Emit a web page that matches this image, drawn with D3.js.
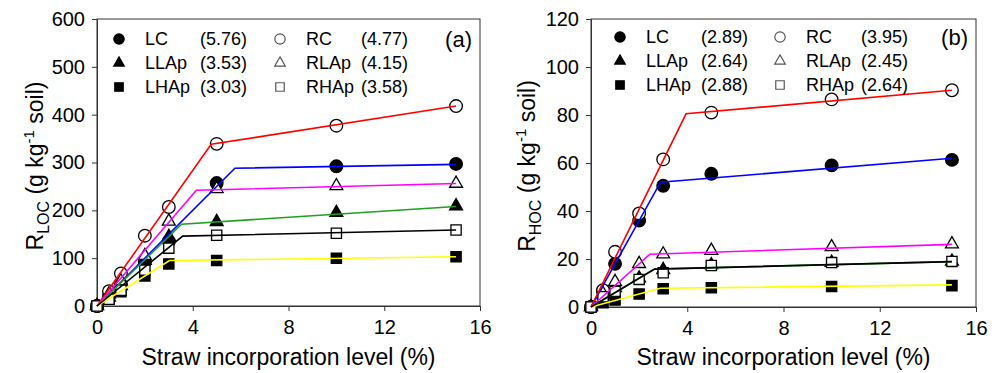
<!DOCTYPE html>
<html>
<head>
<meta charset="utf-8">
<script src="https://cdn.jsdelivr.net/npm/d3@7"></script>
<style>
  body { margin: 0; background: #fff; }
  svg { display: block; font-family: "Liberation Sans", Arial, sans-serif; }
  .tick text { font-size: 20px; fill: #000; }
  .tick line, .domain { stroke: #333; }
</style>
</head>
<body>
<div id="chart"></div>
<script>
// x values (straw incorporation level, %)
const levels = [0, 0.5, 1, 2, 3, 5, 10, 15];
const seriesNames = ['LC', 'LLAp', 'LHAp', 'RC', 'RLAp', 'RHAp'];
const seriesColors = ['#0000ff', '#1fa01f', '#ffff00', '#ff0000', '#ff00ff', '#000000'];
const seriesShapes = ['circle', 'triangle', 'square', 'circle', 'triangle', 'square'];
const seriesFilled = [true, true, true, false, false, false];

// panel (a) R_LOC
const locLC = [0, 20, 45, 92, 135, 257, 292, 297];
const locLLAp = [0, 18, 42, 95, 145, 176, 195, 209];
const locLHAp = [0, 14, 30, 63, 88, 95, 100, 103];
const locRC = [0, 31, 68, 147, 207, 339, 377, 418];
const locRLAp = [0, 25, 52, 105, 177, 245, 251, 256];
const locRHAp = [0, 14, 33, 75, 121, 148, 152, 159];
// fitted piecewise lines: breakpoint, value at breakpoint, value at 15 %
const locBreak = [5.76, 3.53, 3.03, 4.77, 4.15, 3.58];
const locPlateau = [288, 171, 95, 338, 242, 146];
const locEnd = [296, 208, 103, 418, 256, 159];

// panel (b) R_HOC
const hocLC = [0, 6.5, 18, 36, 50.5, 55.5, 59, 61.3];
const hocLLAp = [0, 5, 8, 12, 15.5, 17.5, 18.5, 19];
const hocLHAp = [0, 1.8, 2.9, 5.4, 7.6, 8, 8.5, 8.9];
const hocRC = [0, 7, 23, 39, 61.5, 81, 86.5, 90.3];
const hocRLAp = [0, 5.5, 10.5, 18, 22, 23.5, 25, 26.2];
const hocRHAp = [0, 4.3, 6.5, 11.5, 14.3, 17.3, 18.5, 19];
const hocBreak = [2.89, 2.64, 2.88, 3.95, 2.45, 2.64];
const hocPlateau = [52, 15.8, 7.8, 80.5, 22, 15.8];
const hocEnd = [62, 18.9, 9.2, 90.3, 26.1, 18.9];

const xTicks = [0, 4, 8, 12, 16];
const locTicks = [0, 100, 200, 300, 400, 500, 600];
const hocTicks = [0, 20, 40, 60, 80, 100, 120];

const svg = d3.select('#chart').append('svg')
    .attr('width', 1002)
    .attr('height', 373);

const symbolTypes = { circle: d3.symbolCircle, triangle: d3.symbolTriangle, square: d3.symbolSquare };
const symbolSizes = { circle: 125, triangle: 72, square: 105 };
const legendSizes = { circle: 85, triangle: 48, square: 72 };

function drawPanel(p) {
    const x = d3.scaleLinear().domain([0, 16]).range([p.left, p.right]);
    const y = d3.scaleLinear().domain([0, p.yMax]).range([p.bottom, p.top]);
    const g = svg.append('g');

    // cadre
    g.append('rect')
        .attr('x', p.left).attr('y', p.top)
        .attr('width', p.right - p.left).attr('height', p.bottom - p.top)
        .attr('fill', 'none').attr('stroke', '#333').attr('stroke-width', 1);

    g.append('g')
        .attr('transform', `translate(0,${p.bottom})`)
        .call(d3.axisBottom(x).tickValues(xTicks).tickSize(5).tickSizeOuter(0).tickPadding(9));

    g.append('g')
        .attr('transform', `translate(${p.left},0)`)
        .call(d3.axisLeft(y).tickValues(p.yTicks).tickSize(5).tickSizeOuter(0).tickPadding(7));

    // points
    p.values.forEach((vals, i) => {
        const shape = seriesShapes[i];
        g.selectAll(null)
            .data(vals.map((v, j) => [levels[j], v]))
            .join('path')
            .attr('transform', d => `translate(${x(d[0])},${y(d[1])})`)
            .attr('d', d3.symbol(symbolTypes[shape], symbolSizes[shape]))
            .attr('fill', seriesFilled[i] ? '#000' : '#fff')
            .attr('stroke', '#000')
            .attr('stroke-width', 1.3);
    });

    // droites ajustées (deux segments)
    const line = d3.line().x(d => x(d[0])).y(d => y(d[1]));
    p.breaks.forEach((b, i) => {
        g.append('path')
            .attr('d', line([[0, 0], [b, p.plateau[i]], [15, p.end[i]]]))
            .attr('fill', 'none')
            .attr('stroke', seriesColors[i])
            .attr('stroke-width', 1.6);
    });

    // légende
    [0, 1].forEach(col => {
        [0, 1, 2].forEach(r => {
            const i = col * 3 + r;
            const shape = seriesShapes[i];
            const ly = p.legendY + r * 24;
            const cx = p.legendX[col];
            g.append('path')
                .attr('transform', `translate(${cx},${ly})`)
                .attr('d', d3.symbol(symbolTypes[shape], legendSizes[shape]))
                .attr('fill', seriesFilled[i] ? '#000' : '#fff')
                .attr('stroke', seriesFilled[i] ? '#000' : '#555')
                .attr('stroke-width', 1.2);
            g.append('text')
                .attr('x', cx + 26).attr('y', ly).attr('dy', '0.36em')
                .attr('font-size', 18)
                .text(seriesNames[i]);
            g.append('text')
                .attr('x', cx + 128).attr('y', ly).attr('dy', '0.36em')
                .attr('text-anchor', 'end')
                .attr('font-size', 18)
                .text(`(${p.breaks[i].toFixed(2)})`);
        });
    });

    g.append('text')
        .attr('x', p.right - 8).attr('y', p.legendY).attr('dy', '0.36em')
        .attr('text-anchor', 'end')
        .attr('font-size', 22)
        .text(p.tag);

    // titres des axes
    g.append('text')
        .attr('x', (p.left + p.right) / 2).attr('y', 357).attr('dy', '0.36em')
        .attr('text-anchor', 'middle')
        .attr('font-size', 23)
        .text('Straw incorporation level (%)');

    const yt = g.append('text')
        .attr('transform', `translate(${p.left - p.titleGap},166) rotate(-90)`)
        .attr('text-anchor', 'middle')
        .attr('font-size', 23);
    yt.append('tspan').text('R');
    yt.append('tspan').attr('font-size', 16).attr('dy', 6).text(p.sub);
    yt.append('tspan').attr('dy', -6).text(' (g kg');
    yt.append('tspan').attr('font-size', 15).attr('dy', -9).text('-1');
    yt.append('tspan').attr('dy', 9).text(' soil)');
}

drawPanel({
    left: 97, right: 480, top: 19, bottom: 306, yMax: 600, yTicks: locTicks,
    values: [locLC, locLLAp, locLHAp, locRC, locRLAp, locRHAp],
    breaks: locBreak, plateau: locPlateau, end: locEnd,
    legendX: [119, 280], legendY: 39, tag: '(a)', sub: 'LOC', titleGap: 54
});

drawPanel({
    left: 591, right: 976, top: 19, bottom: 307, yMax: 120, yTicks: hocTicks,
    values: [hocLC, hocLLAp, hocLHAp, hocRC, hocRLAp, hocRHAp],
    breaks: hocBreak, plateau: hocPlateau, end: hocEnd,
    legendX: [620, 780], legendY: 37, tag: '(b)', sub: 'HOC', titleGap: 56
});
</script>
</body>
</html>
